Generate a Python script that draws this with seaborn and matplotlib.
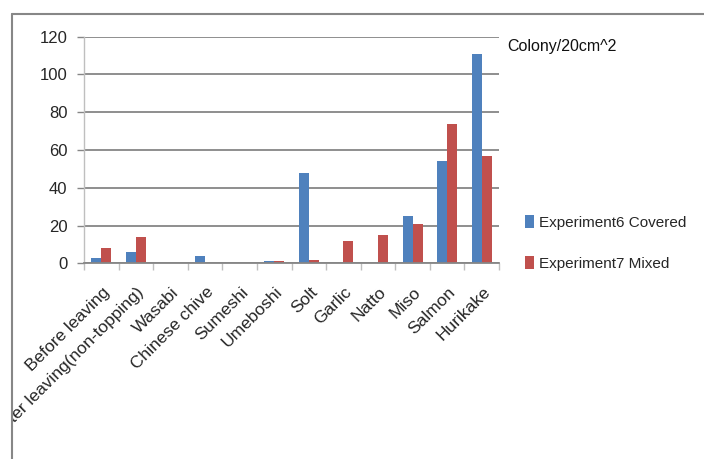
import numpy as np
import pandas as pd
import matplotlib
matplotlib.use("Agg")
import matplotlib.pyplot as plt
from matplotlib.lines import Line2D
from matplotlib.transforms import Bbox, TransformedBbox, ScaledTranslation
import seaborn as sns

categories = ["Before leaving", "After leaving(non-topping)", "Wasabi", "Chinese chive",
              "Sumeshi", "Umeboshi", "Solt", "Garlic", "Natto", "Miso", "Salmon", "Hurikake"]
covered = [3, 6, 0, 4, 0, 1, 48, 0, 0, 25, 54, 111]
mixed = [8, 14, 0, 0, 0, 1, 2, 12, 15, 21, 74, 57]
series_names = ["Experiment6 Covered", "Experiment7 Mixed"]
yticks = [0, 20, 40, 60, 80, 100, 120]

df = pd.DataFrame({
    "category": categories * 2,
    "value": covered + mixed,
    "series": [series_names[0]] * len(categories) + [series_names[1]] * len(categories),
})

sns.set_theme(style="white")
plt.rcParams["font.family"] = ["Liberation Sans", "DejaVu Sans"]

fig = plt.figure(figsize=(7.04, 4.59), dpi=100)
ax = fig.add_axes([84 / 704, 1 - 263.3 / 459, 415 / 704, 226.6 / 459])

sns.barplot(data=df, x="category", y="value", hue="series", order=categories,
            hue_order=series_names, palette=["#4F81BD", "#C0504D"], width=0.58,
            saturation=1, ax=ax, legend=True, edgecolor="none", linewidth=0)

ax.set_xlim(-0.5, len(categories) - 0.5)
ax.set_ylim(0, 120)
ax.set_yticks(yticks)
ax.set_yticklabels([str(v) for v in yticks], fontsize=12)
ax.yaxis.grid(True, color="#868686", linewidth=1.3)
ax.set_axisbelow(True)
ax.set_xlabel("")
ax.set_ylabel("")

for side in ["top", "right"]:
    ax.spines[side].set_visible(False)
ax.spines["left"].set_color("#bfbfbf")
ax.spines["left"].set_linewidth(1.0)
ax.spines["bottom"].set_color("#868686")
ax.spines["bottom"].set_linewidth(1.3)

ax.tick_params(axis="y", which="major", left=True, length=5, color="#868686", width=1.0, pad=7)
ax.set_xticks(np.arange(len(categories)))
ax.set_xticks(np.arange(-0.5, len(categories)), minor=True)
ax.tick_params(axis="x", which="major", length=0, pad=19)
ax.tick_params(axis="x", which="minor", bottom=True, length=5, color="#bfbfbf", width=1.0)
ax.set_xticklabels(categories, rotation=45, ha="right", va="center",
                   rotation_mode="anchor", fontsize=12.5)

# Chart frame: labels are nudged right and cut at the frame's left edge
frame_box = TransformedBbox(Bbox([[12 / 704, 0], [1, 1 - 14 / 459]]), fig.transFigure)
nudge = ScaledTranslation(6 / 100, 0, fig.dpi_scale_trans)
for lab in ax.get_xticklabels():
    lab.set_transform(lab.get_transform() + nudge)
    lab.set_clip_box(frame_box)
    lab.set_clip_on(True)

fig.add_artist(Line2D([12 / 704, 1], [1 - 14 / 459, 1 - 14 / 459], transform=fig.transFigure,
                      color="#878787", linewidth=1.5))
fig.add_artist(Line2D([12 / 704, 12 / 704], [0, 1 - 14 / 459], transform=fig.transFigure,
                      color="#878787", linewidth=1.5))

leg = ax.legend(loc="upper left", bbox_to_anchor=(525 / 704, 1 - 215 / 459),
                bbox_transform=fig.transFigure, frameon=False, fontsize=11,
                borderpad=0, borderaxespad=0,
                handlelength=0.6, handleheight=0.9, handletextpad=0.3, labelspacing=1.75)

fig.text(507 / 704, 1 - 46 / 459, "Colony/20cm^2", fontsize=11.5, family="Liberation Sans",
         va="center", ha="left", color="#111111")

fig.savefig("out.png", dpi=100)
